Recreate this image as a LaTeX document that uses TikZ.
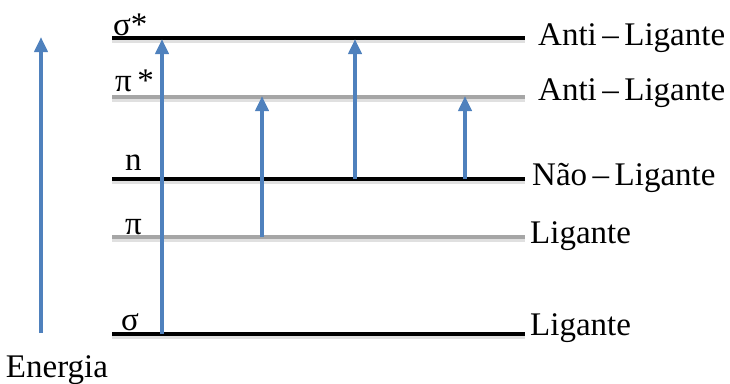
\documentclass[tikz,border=0pt]{standalone}
\usepackage{fontspec}
\IfFontExistsTF{LiberationSerif-Regular.ttf}
  {\newfontfamily\timesfont{LiberationSerif-Regular.ttf}}
  {\newfontfamily\timesfont{Liberation Serif}}
\usetikzlibrary{arrows.meta}
\definecolor{arrowblue}{HTML}{4F81BD}
\definecolor{levelgray}{HTML}{A6A6A6}
\tikzset{
  lvl/.style={line width=4pt},
  lvlshadow/.style={line width=4pt, black, opacity=0.12},
  trans/.style={arrowblue, line width=4pt, -{Triangle[width=13pt,length=15pt]}, shorten >=-1pt},
  lab/.style={font=\timesfont\fontsize{33}{36}\selectfont, inner sep=0pt, anchor=base west},
}
\begin{document}
\begin{tikzpicture}[x=1pt,y=-1pt]
\useasboundingbox (0,0) rectangle (730,383);
% level endpoints
\foreach \n/\y in {ss/38,ps/97,nn/179,pp/237,sg/334}{
  \coordinate (\n L) at (112,\y);
  \coordinate (\n R) at (525,\y);
}
% shadows
\foreach \n in {ss,ps,nn,pp,sg}{
  \draw[lvlshadow] ([yshift=-3pt]\n L) -- ([yshift=-3pt]\n R);
}
\draw[lvl, black] (ssL) -- (ssR);
\draw[lvl, levelgray] (psL) -- (psR);
\draw[lvl, black] (nnL) -- (nnR);
\draw[lvl, levelgray] (ppL) -- (ppR);
\draw[lvl, black] (sgL) -- (sgR);
% left labels
\node[lab] (lss) at (113,35) {σ*};
\node[lab] (lps) at (115,91) {π\,*};
\node[lab] (lnn) at (125,170) {n};
\node[lab] (lpp) at (125,234) {π};
\node[lab] (lsg) at (121,330) {σ};
% right labels
\node[lab] (rss) at (538,45) {Anti\,–\,Ligante};
\node[lab] (rps) at (538,100) {Anti\,–\,Ligante};
\node[lab] (rnn) at (532,185) {Não\,–\,Ligante};
\node[lab] (rpp) at (530,243) {Ligante};
\node[lab] (rsg) at (530,335) {Ligante};
% transitions
\coordinate (a1s) at (162,334); \coordinate (a1e) at (162,40);
\coordinate (a2s) at (262,237); \coordinate (a2e) at (262,97);
\coordinate (a3s) at (355,179); \coordinate (a3e) at (355,40);
\coordinate (a4s) at (465,179); \coordinate (a4e) at (465,97);
\draw[trans] (a1s) -- (a1e);
\draw[trans] (a2s) -- (a2e);
\draw[trans] (a3s) -- (a3e);
\draw[trans] (a4s) -- (a4e);
% energy axis
\coordinate (es) at (41,333); \coordinate (ee) at (41,38);
\draw[trans] (es) -- (ee);
\node[lab, anchor=base] (energia) at (57,377) {Energia};
\end{tikzpicture}
\end{document}
